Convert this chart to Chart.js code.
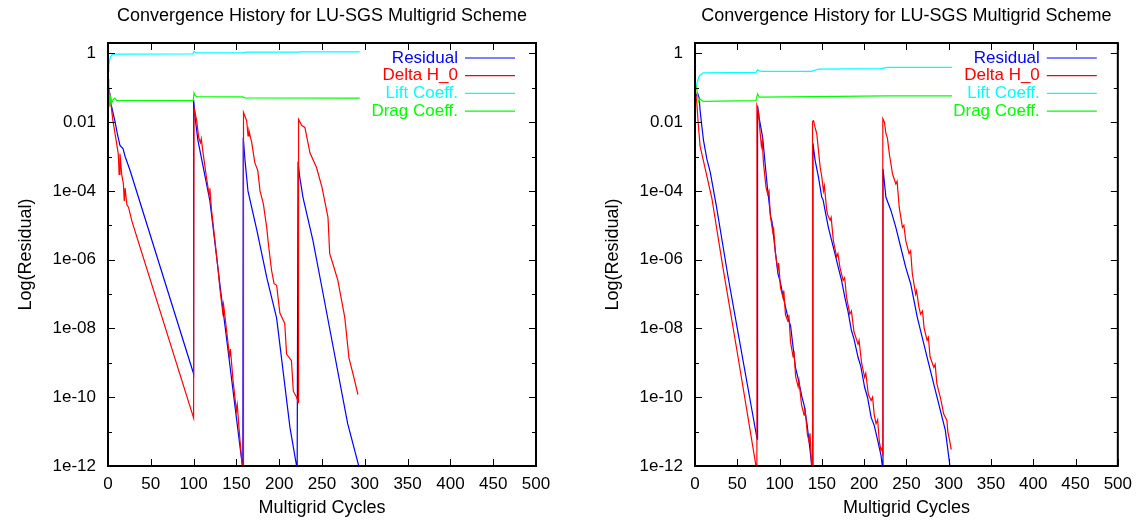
<!DOCTYPE html>
<html>
<head>
<meta charset="utf-8">
<title>Convergence History for LU-SGS Multigrid Scheme</title>
<script src="https://cdn.jsdelivr.net/npm/chart.js@4.4.1/dist/chart.umd.min.js"></script>
<style>
  body { margin: 0; background: #fff; width: 1140px; height: 521px; overflow: hidden; }
  canvas { position: absolute; top: 0; }
  #left { left: 0; }
  #right { left: 587px; }
</style>
</head>
<body>
<canvas id="left" width="570" height="521"></canvas>
<canvas id="right" width="553" height="521"></canvas>
<script>
// Series labels and colours (legend order)
const seriesLabels = ['Residual', 'Delta H_0', 'Lift Coeff.', 'Drag Coeff.'];
const seriesColors = ['#0000ff', '#ff0000', '#00ffff', '#00ff00'];

// Axis ticks
const xTickValues = [0, 50, 100, 150, 200, 250, 300, 350, 400, 450, 500];
const xTickLabels = ['0', '50', '100', '150', '200', '250', '300', '350', '400', '450', '500'];
const yTickValues = [1, 1e-1, 1e-2, 1e-3, 1e-4, 1e-5, 1e-6, 1e-7, 1e-8, 1e-9, 1e-10, 1e-11, 1e-12];
const yTickLabels = ['1', '', '0.01', '', '1e-04', '', '1e-06', '', '1e-08', '', '1e-10', '', '1e-12'];

// Left plot: [cycle, value]
const leftResidual = [
  [0, 0.12], [2, 0.07], [4, 0.03], [6, 0.018], [8, 0.011], [11, 4.5e-3], [14, 2.1e-3],
  [17.5, 1.7e-3], [20, 1e-3], [25.7, 4e-4], [100, 4.8e-10],
  [100, 0.045], [102, 0.012], [105, 3e-3], [119, 5.2e-5], [133, 6.5e-8], [157.5, 8e-13],
  [158, 3.5e-3], [160, 8e-4], [163.5, 1e-4], [174, 7e-6], [185.5, 3e-7], [197, 2e-8],
  [212.6, 1.3e-11], [221, 8e-13],
  [222, 7e-4], [224, 2.5e-4], [227.8, 6.5e-5], [239.5, 3.5e-6], [250, 1.5e-7], [280, 1.7e-11],
  [294, 8e-13]
];
const leftDelta = [
  [0, 0.1], [1, 0.06], [2, 0.035], [3, 0.05], [4, 0.025], [6, 0.01], [8, 5e-3], [10, 2.5e-3],
  [12, 1.2e-3], [13, 3e-4], [14, 1.2e-3], [16, 3e-4], [18, 1.6e-4], [19, 5e-5], [20, 1.2e-4],
  [22, 4e-5], [24, 3.3e-5], [28, 1.3e-5], [100, 2.5e-11],
  [100.5, 0.027], [103.6, 0.011], [106, 3.5e-3], [108, 2.5e-3], [109, 3.3e-3], [111, 1.3e-3],
  [115, 2.5e-4], [118, 8e-5], [119, 1.2e-4], [121, 2.7e-5], [125, 3.5e-6], [128.6, 5e-7],
  [130.5, 1.6e-7], [134, 3e-8], [135, 5e-8], [138.6, 8.5e-9], [142, 1.5e-9], [143, 2.5e-9],
  [146, 3.2e-10], [150, 4e-11], [151, 6e-11], [154, 6.3e-12], [158, 5e-13],
  [158.3, 0.019], [162, 0.011], [163.6, 4e-3], [164.7, 5.6e-3], [168, 2.5e-3], [171.5, 6.6e-4],
  [175, 3.9e-4], [177.6, 1e-4], [181.5, 4.2e-5], [185.5, 8.3e-6], [187, 3.5e-6], [191, 5e-7],
  [194, 2e-7], [197, 1.8e-7], [200.8, 2.8e-8], [206.5, 1.4e-8], [208.6, 1.8e-9],
  [214.3, 1.15e-9], [216.5, 1.5e-10], [220.3, 1e-10], [222.4, 7e-11],
  [222.6, 0.012], [226.5, 8e-3], [230, 7e-3], [236, 1.26e-3], [243.6, 4.8e-4], [250, 1.26e-4],
  [257, 1.7e-5], [259, 1.5e-6], [262.7, 7.6e-7], [268.5, 2.5e-7], [276.6, 2.1e-8],
  [281.5, 1.4e-9], [287, 4e-10], [292, 1.2e-10]
];
const leftLift = [
  [0, 0.3], [1, 0.45], [2, 0.65], [3, 0.8], [5, 0.92], [8, 0.95], [99, 0.96], [100.5, 1.15],
  [102, 1.05], [104, 1.03], [158, 1.03], [162, 1.08], [222, 1.09], [226, 1.1], [294, 1.1]
];
const leftDrag = [
  [0, 0.18], [1, 0.1], [2, 0.03], [3, 0.06], [4, 0.035], [6, 0.045], [8, 0.05], [10, 0.043],
  [99.5, 0.042], [100.5, 0.07], [102, 0.058], [104, 0.055], [157, 0.054], [160, 0.051], [294, 0.05]
];

// Right plot: [cycle, value]
const rightResidual = [
  [0, 0.05], [3, 0.07], [5, 0.05], [6, 0.022], [8, 8e-3], [10, 3e-3], [14, 8.5e-4], [18, 3.5e-4],
  [25, 4e-5], [39, 3.3e-7], [50, 1e-8], [73.5, 6e-12],
  [74, 0.03], [76, 0.0126], [80, 3.6e-3], [85.6, 1.26e-4], [89.6, 1.7e-5], [91, 1.3e-5],
  [93.5, 3.6e-6], [98, 4e-7], [101, 2.2e-7], [104, 9e-8], [110, 2e-8], [113, 1.2e-8],
  [118.8, 7.4e-10], [122, 3.5e-10], [126.5, 1e-10], [129, 6e-11], [132.4, 1.7e-11], [136, 3e-12],
  [138.5, 8e-13],
  [139.5, 2.4e-3], [142.1, 7.6e-4], [146, 2.5e-4], [149.9, 6.5e-5], [151.5, 5.5e-5],
  [153.8, 2.7e-5], [157.7, 8.7e-6], [161.6, 3.6e-6], [165.5, 1.5e-6], [169.4, 6e-7],
  [173.3, 2.5e-7], [177.2, 8e-8], [181.1, 3e-8], [185, 8.7e-9], [188, 5e-9], [192.8, 1.45e-9],
  [196, 8e-10], [200.6, 1.95e-10], [204, 1e-10], [208.3, 2.6e-11], [212, 1.5e-11],
  [216.1, 5.5e-12], [220, 2e-12], [222, 8e-13],
  [222.3, 4.4e-4], [225.8, 6.5e-5], [231.7, 2.7e-5], [237.5, 8.7e-6], [243.3, 2.3e-6],
  [249.2, 6e-7], [255, 2e-7], [262.9, 2.1e-8], [274.5, 1.45e-9], [286.2, 1e-10], [296, 1.1e-11],
  [302, 8e-13]
];
const rightDelta = [
  [0, 0.1], [2, 0.04], [4, 8e-3], [6, 2e-3], [12, 4.5e-4], [20, 6e-5], [33, 6e-7], [50, 2e-9],
  [72.8, 8e-13],
  [73.2, 0.03], [75, 0.02], [77, 5e-3], [78.5, 2e-3], [79.5, 2.8e-3], [81, 6.3e-4], [84, 1.26e-4],
  [86, 8e-5], [87.5, 1e-4], [89, 2e-5], [92, 6.3e-6], [93, 8e-6], [95, 1.6e-6], [98, 5e-7],
  [99, 8e-7], [101, 1.6e-7], [104, 8e-8], [105, 1.26e-7], [107, 2.5e-8], [110, 1.6e-8],
  [111, 2.5e-8], [113, 4e-9], [116, 1.5e-9], [117, 2.2e-9], [119, 4e-10], [122, 2e-10],
  [123, 3e-10], [126, 6e-11], [129, 3e-11], [130, 5e-11], [133, 8e-12], [135, 5e-12],
  [136, 9e-12], [138.5, 5e-13],
  [139, 0.0105], [140.2, 0.011], [142, 7e-3], [144, 4.6e-3], [146, 1.5e-3], [148, 4.9e-4],
  [150, 2.5e-4], [151.9, 1e-4], [153, 1.4e-4], [155.8, 2.7e-5], [157, 2e-5], [159.7, 1.4e-5],
  [161, 1.7e-5], [163.6, 3.6e-6], [167.5, 1.2e-6], [169, 1.5e-6], [171.4, 6e-7], [175.2, 2.5e-7],
  [177, 3e-7], [179.2, 8e-8], [183.1, 2.6e-8], [185, 3.2e-8], [188, 8e-9], [192.8, 3.5e-9],
  [194, 4.5e-9], [197, 1e-9], [200.6, 3.8e-10], [202, 5e-10], [205, 1.2e-10], [208.3, 8e-11],
  [210, 1e-10], [212, 3e-11], [214.1, 1.7e-11], [216, 2.2e-11], [218, 5e-12], [220, 2.8e-12],
  [221.5, 3.5e-12], [222, 2e-12],
  [222.2, 0.0126], [224, 0.01], [225.8, 4.6e-3], [227.5, 3.5e-3], [229.8, 1.2e-3], [233.6, 3.1e-4],
  [237.5, 1.6e-4], [239, 1.9e-4], [241.5, 3.3e-5], [245.3, 8.7e-6], [247, 1e-5], [249.2, 3.6e-6],
  [253.2, 1.5e-6], [255, 1.8e-6], [257, 3.9e-7], [260.9, 1e-7], [262, 1.26e-7], [264.8, 4.2e-8],
  [266.7, 2.6e-8], [269, 3.2e-8], [271, 1e-8], [274.5, 4.5e-9], [276, 5.5e-9], [278, 1.5e-9],
  [282.4, 7.4e-10], [284, 9e-10], [286, 2.5e-10], [290, 1e-10], [292, 6e-11], [294, 3.3e-11],
  [297.9, 2.1e-11], [299, 1e-11], [301.8, 4.5e-12], [303, 3e-12]
];
const rightLift = [
  [0, 0.074], [2, 0.13], [5, 0.22], [9.7, 0.27], [72, 0.28], [74, 0.33], [76, 0.31], [80, 0.3],
  [138, 0.3], [146, 0.35], [220, 0.36], [228, 0.39], [304, 0.39]
];
const rightDrag = [
  [0, 0.13], [2, 0.1], [3.9, 0.038], [5.8, 0.047], [9.7, 0.04], [72, 0.042], [74, 0.066],
  [76, 0.053], [138, 0.055], [228, 0.058], [304, 0.058]
];

const fontFamily = "'Liberation Sans', Arial, Helvetica, sans-serif";

// Box, inward tick marks and gnuplot-style key
const frameAndKey = {
    id: 'frameAndKey',
    afterDatasetsDraw(chart) {
        const { ctx, chartArea: a, scales: { x, y } } = chart;
        ctx.save();
        ctx.strokeStyle = '#000';
        ctx.lineWidth = 1;
        ctx.beginPath();
        x.ticks.forEach(t => {
            const px = Math.round(x.getPixelForValue(t.value)) + 0.5;
            ctx.moveTo(px, a.bottom); ctx.lineTo(px, a.bottom - 7);
            ctx.moveTo(px, a.top); ctx.lineTo(px, a.top + 7);
        });
        y.ticks.forEach(t => {
            const py = Math.round(y.getPixelForValue(t.value)) + 0.5;
            const len = t.label ? 7 : 4;
            ctx.moveTo(a.left, py); ctx.lineTo(a.left + len, py);
            ctx.moveTo(a.right, py); ctx.lineTo(a.right - len, py);
        });
        ctx.stroke();
        ctx.lineWidth = 2;
        ctx.strokeRect(a.left, a.top, a.right - a.left, a.bottom - a.top);

        ctx.font = '17px ' + fontFamily;
        ctx.textAlign = 'right';
        ctx.textBaseline = 'middle';
        chart.data.datasets.forEach((ds, i) => {
            const ly = a.top + 15 + i * 17.7;
            ctx.fillStyle = ds.borderColor;
            ctx.fillText(ds.label, a.right - 78, ly);
            ctx.strokeStyle = ds.borderColor;
            ctx.lineWidth = 1.2;
            ctx.beginPath();
            ctx.moveTo(a.right - 71, ly);
            ctx.lineTo(a.right - 21, ly);
            ctx.stroke();
        });
        ctx.restore();
    }
};

function makeChart(id, series, rightPad) {
    const ctx = document.getElementById(id).getContext('2d');
    new Chart(ctx, {
        type: 'line',
        data: {
            datasets: series.map((s, i) => ({
                label: seriesLabels[i],
                data: s.map(([cx, v]) => ({ x: cx, y: v })),
                borderColor: seriesColors[i],
                backgroundColor: seriesColors[i],
                borderWidth: 1.2,
                pointRadius: 0,
                tension: 0,
                fill: false,
                order: series.length - i
            }))
        },
        options: {
            responsive: false,
            animation: false,
            devicePixelRatio: 1,
            events: [],
            layout: { padding: { left: 0, right: rightPad, top: 0, bottom: 0 } },
            plugins: {
                legend: { display: false },
                tooltip: { enabled: false },
                title: {
                    display: true,
                    text: 'Convergence History for LU-SGS Multigrid Scheme',
                    fullSize: false,
                    color: '#000',
                    font: { family: fontFamily, size: 18, weight: 'normal' },
                    padding: { top: 5.2, bottom: 16.2 }
                }
            },
            scales: {
                x: {
                    type: 'linear',
                    min: 0,
                    max: 500,
                    afterBuildTicks: s => { s.ticks = xTickValues.map(v => ({ value: v })); },
                    afterFit: s => { s.height = 55; },
                    ticks: {
                        callback: (v, i) => xTickLabels[i],
                        autoSkip: false,
                        maxRotation: 0,
                        padding: 8,
                        color: '#000',
                        font: { family: fontFamily, size: 17 }
                    },
                    grid: { display: false, drawTicks: false },
                    border: { display: false },
                    title: {
                        display: true,
                        text: 'Multigrid Cycles',
                        color: '#000',
                        font: { family: fontFamily, size: 18 },
                        padding: { top: 0, bottom: 2.2 }
                    }
                },
                y: {
                    type: 'logarithmic',
                    min: 1e-12,
                    max: 2,
                    afterBuildTicks: s => { s.ticks = yTickValues.map(v => ({ value: v })); },
                    afterFit: s => { s.width = 108; },
                    ticks: {
                        callback: (v, i) => yTickLabels[i],
                        autoSkip: false,
                        padding: 12,
                        color: '#000',
                        font: { family: fontFamily, size: 17 }
                    },
                    grid: { display: false, drawTicks: false },
                    border: { display: false },
                    title: {
                        display: true,
                        text: 'Log(Residual)',
                        color: '#000',
                        font: { family: fontFamily, size: 18 },
                        padding: { top: 15.2, bottom: 0 }
                    }
                }
            }
        },
        plugins: [frameAndKey]
    });
}

makeChart('left', [leftResidual, leftDelta, leftLift, leftDrag], 34);
makeChart('right', [rightResidual, rightDelta, rightLift, rightDrag], 17);
</script>
</body>
</html>
